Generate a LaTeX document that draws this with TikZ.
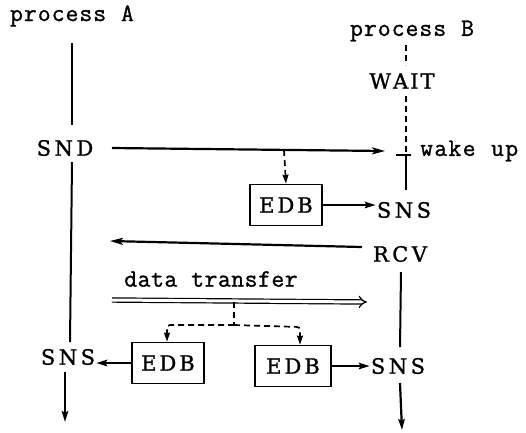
\documentclass[tikz,border=0pt]{standalone}
\usepackage{fontspec}
\newfontfamily\capfont{DejaVu Serif}[FakeBold=1.2]
\newfontfamily\lowfont{Latin Modern Mono}[FakeBold=1.1]
\usetikzlibrary{arrows.meta}
\ExplSyntaxOn
\NewDocumentCommand\lsp{O{5pt}m}{\tl_map_inline:nn{#2}{##1\kern#1}\unkern}
\ExplSyntaxOff
\begin{document}
\begin{tikzpicture}[x=1pt,y=-1pt,
  lbl/.style={inner sep=1pt,font=\capfont\fontsize{21}{24}\selectfont},
  plbl/.style={inner sep=1pt,font=\lowfont\fontsize{25}{28}\selectfont},
  box/.style={draw,line width=1.8pt,minimum width=72pt,minimum height=41pt,inner sep=2pt,font=\capfont\fontsize{21}{24}\selectfont},
  life/.style={line width=2pt},
  msg/.style={line width=2.2pt,-{Stealth[length=13pt,width=7pt,inset=3pt]}},
  sarr/.style={line width=2.2pt,-{Stealth[length=11pt,width=6.5pt,inset=2pt]}},
  dsh/.style={line width=1.7pt,dash pattern=on 6pt off 4pt},
  darr/.style={-{Stealth[length=9pt,width=6pt,inset=1pt]}},
]
\useasboundingbox (0,0) rectangle (526,432);
% nodes
\node[plbl] (pA) at (72,16) {\lsp[1pt]{process~A}};
\node[plbl] (pB) at (412,31) {\lsp[1pt]{process~B}};
\node[lbl] (wait) at (402,81) {\lsp[2pt]{WAIT}};
\node[lbl] (snd) at (65,148) {\lsp[3.5pt]{SND}};
\node[plbl,anchor=west] (wake) at (419,151) {\lsp[1.3pt]{wake~up}};
\node[box] (edb1) at (286,205) {\lsp[3pt]{EDB}};
\node[lbl] (sns1) at (404,210) {\lsp[3.5pt]{SNS}};
\node[lbl] (rcv) at (400,254) {\lsp[3.5pt]{RCV}};
\node[plbl] (dt) at (211,279) {\lsp[0.5pt]{data~transfer}};
\node[box] (edb2) at (168,363) {\lsp[3pt]{EDB}};
\node[box,minimum width=76pt] (edb3) at (293,366) {\lsp[3pt]{EDB}};
\node[lbl] (sns2) at (68,357) {\lsp[3.5pt]{SNS}};
\node[lbl] (sns3) at (398,366) {\lsp[3.5pt]{SNS}};
% coordinates
\coordinate (aTop) at (72,43);
\coordinate (bTop) at (406,45);
\coordinate (tick) at (406,155);
\coordinate (tickL) at (396,155);
\coordinate (tickR) at (411,155);
\coordinate (sndEnd) at (385,151);
\coordinate (sndStart) at (112,148);
\coordinate (drop1) at (284,150);
\coordinate (rcvStart) at (362,247);
\coordinate (rcvEnd) at (110,241);
\coordinate (dtStart) at (112,300);
\coordinate (dtEnd) at (367,302);
\coordinate (dtDrop) at (234,302);
\coordinate (fork) at (234,325);
\coordinate (forkL) at (167,325);
\coordinate (forkR) at (300,327);
\coordinate (aEnd) at (65,422);
\coordinate (bEnd) at (402,430);
% lifelines
\draw[life] (aTop) -- (72,125);
\draw[life] (72,162) -- (70,342);
\draw[sarr] (65,372) -- (aEnd);
\draw[dsh] (bTop) -- (406,65);
\draw[dsh] (406,96) -- (tick);
\draw[life] (tickL) -- (tickR);
\draw[life] (tick) -- (406,190);
\draw[life] (401,272) -- (400,347);
\draw[sarr] (400,383) -- (bEnd);
% messages
\draw[msg] (sndStart) -- (sndEnd);
\draw[dsh,darr] (drop1) -- (edb1.north);
\draw[sarr] (edb1.east) -- (sns1.west |- edb1.east);
\draw[msg] (rcvStart) -- (rcvEnd);
\draw[line width=1.2pt,double,double distance=3pt,-{Implies[length=12pt,width=14pt]}] (dtStart) -- (dtEnd);
\draw[dsh] (dtDrop) -- (fork);
\draw[dsh,rounded corners=3pt,darr] (fork) -- (forkL) -- (edb2.north -| forkL);
\draw[dsh,rounded corners=3pt,darr] (fork) -- (forkR) -- (edb3.north -| forkR);
\draw[sarr] (edb2.west) -- (sns2.east |- edb2.west);
\draw[sarr] (edb3.east) -- (sns3.west |- edb3.east);
\end{tikzpicture}
\end{document}
